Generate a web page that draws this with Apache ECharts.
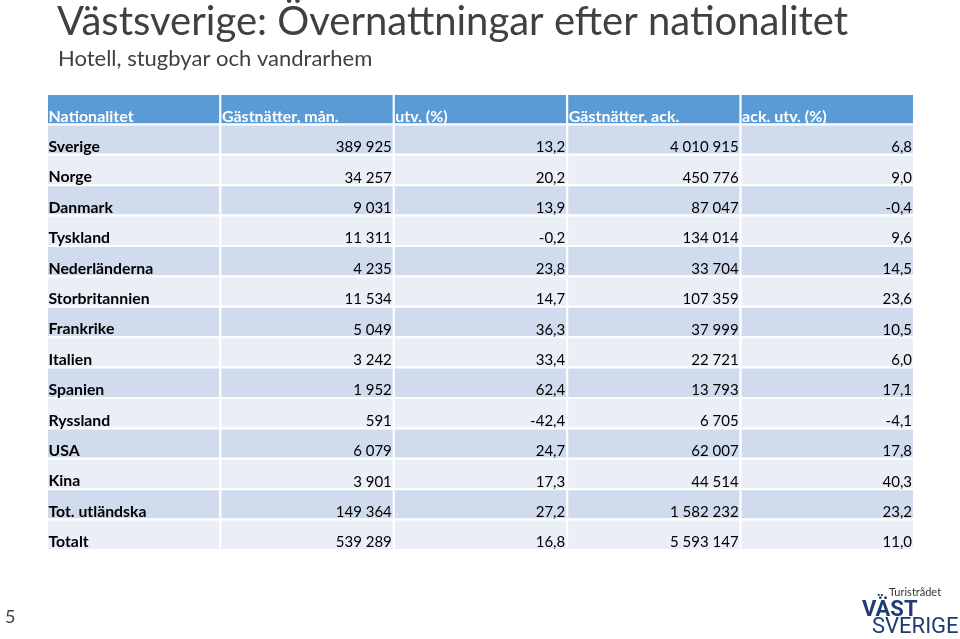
<!DOCTYPE html>
<html><head><meta charset="utf-8">
<script src="https://cdn.jsdelivr.net/npm/echarts@6/dist/echarts.min.js"></script>
<style>html,body{margin:0;padding:0;background:#fff}#c{width:960px;height:639px}</style>
</head><body><div id="c"></div>
<script>
var columns = ['Nationalitet', 'Gästnätter, mån.', 'utv. (%)', 'Gästnätter, ack.', 'ack. utv. (%)'];
var nationalities = ['Sverige','Norge','Danmark','Tyskland','Nederländerna','Storbritannien','Frankrike','Italien','Spanien','Ryssland','USA','Kina','Tot. utländska','Totalt'];
var nightsMonth = [389925,34257,9031,11311,4235,11534,5049,3242,1952,591,6079,3901,149364,539289];
var changeMonth = [13.2,20.2,13.9,-0.2,23.8,14.7,36.3,33.4,62.4,-42.4,24.7,17.3,27.2,16.8];
var nightsAcc = [4010915,450776,87047,134014,33704,107359,37999,22721,13793,6705,62007,44514,1582232,5593147];
var changeAcc = [6.8,9.0,-0.4,9.6,14.5,23.6,10.5,6.0,17.1,-4.1,17.8,40.3,23.2,11.0];

function fmtInt(v){ return String(v).replace(/\B(?=(\d{3})+(?!\d))/g, ' '); }
function fmtPct(v){ return v.toFixed(1).replace('.', ','); }

var rowsCat = ['header'].concat(nationalities);
var cells = [], texts = [];
columns.forEach(function(h, ci){ cells.push([ci, 0]); texts.push(h); });
nationalities.forEach(function(n, ri){
  var r = ri + 1;
  cells.push([0, r]); texts.push(n);
  cells.push([1, r]); texts.push(fmtInt(nightsMonth[ri]));
  cells.push([2, r]); texts.push(fmtPct(changeMonth[ri]));
  cells.push([3, r]); texts.push(fmtInt(nightsAcc[ri]));
  cells.push([4, r]); texts.push(fmtPct(changeAcc[ri]));
});

var FONT = 'Lato, "Open Sans", sans-serif';
var chart = echarts.init(document.getElementById('c'));
chart.setOption({
  animation: false,
  grid: {left: 47, right: 46, top: 94, bottom: 89},
  xAxis: {type: 'category', data: columns, show: false},
  yAxis: {type: 'category', data: rowsCat, inverse: true, show: false},
  series: [{
    type: 'custom',
    data: cells,
    encode: {x: 0, y: 1},
    renderItem: function(params, api){
      var col = api.value(0), row = api.value(1);
      var c = api.coord([col, row]);
      var s = api.size([1, 1]);
      var x0 = c[0] - s[0] / 2, y0 = c[1] - s[1] / 2;
      var fill = row === 0 ? '#5B9BD5' : (row % 2 === 1 ? '#D0DCEE' : '#E9EEF7');
      var txt = texts[params.dataIndex];
      var isHeader = row === 0;
      var leftAlign = isHeader || col === 0;
      var size = isHeader ? '16px ' : (col === 0 ? '15.8px ' : '15px ');
      return {
        type: 'group',
        children: [
          {type: 'rect', z2: 0, shape: {x: x0, y: y0, width: s[0], height: s[1]},
           style: {fill: fill, stroke: '#ffffff', lineWidth: 2}},
          {type: 'text', z2: 100, style: {
            text: txt,
            x: leftAlign ? x0 + 1.5 : x0 + s[0] - 2,
            y: y0 + s[1],
            align: leftAlign ? 'left' : 'right',
            verticalAlign: 'bottom',
            fill: isHeader ? '#ffffff' : '#000000',
            font: ((isHeader || col === 0) ? 'bold ' : '') + size + FONT
          }}
        ]
      };
    }
  }],
  graphic: [
    {type: 'text', left: 57, top: 2, style: {text: 'Västsverige: Övernattningar efter nationalitet', fill: '#404040', font: '40px ' + FONT}},
    {type: 'text', left: 58, top: 48, style: {text: 'Hotell, stugbyar och vandrarhem', fill: '#404040', font: '22px ' + FONT}},
    {type: 'text', left: 5, top: 608, style: {text: '5', fill: '#404040', font: '18px ' + FONT}},
    {type: 'text', left: 877, top: 584, style: {text: '..', fill: '#1F3C73', font: 'bold 14px ' + FONT}},
    {type: 'text', left: 889, top: 587, style: {text: 'Turistrådet', fill: '#333333', font: '11px ' + FONT}},
    {type: 'text', left: 862, top: 599, style: {text: 'VÄST', fill: '#1F3C73', font: 'bold 22px Roboto, sans-serif'}},
    {type: 'text', left: 872, top: 616, style: {text: 'SVERIGE', fill: '#1F3C73', font: '22px Roboto, sans-serif'}}
  ]
});
</script></body></html>
